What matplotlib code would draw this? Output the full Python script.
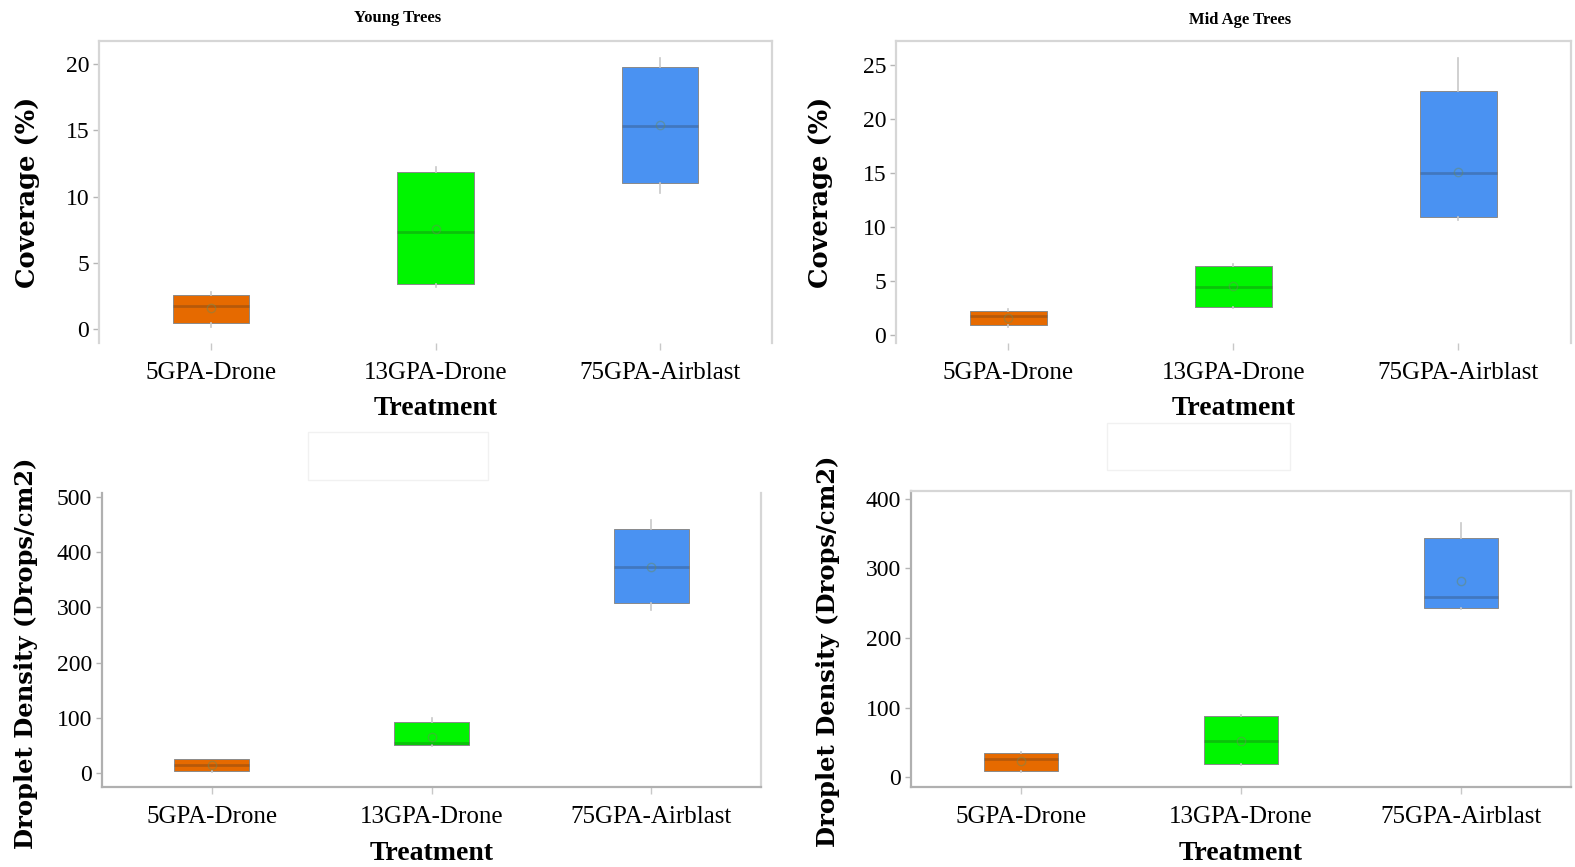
import matplotlib
matplotlib.use('Agg')
import matplotlib.pyplot as plt
from matplotlib.patches import Rectangle

# treatments and box colours
treatments = ['5GPA-Drone', '13GPA-Drone', '75GPA-Airblast']
colors = ['#E66A00', '#00F500', '#4A92F2']

# Young trees, coverage (%)
cov_young_q1 = [0.45, 3.4, 11.0]
cov_young_med = [1.7, 7.33, 15.3]
cov_young_q3 = [2.57, 11.86, 19.8]
cov_young_lo = [0.15, 3.17, 10.3]
cov_young_hi = [2.8, 12.2, 20.5]
cov_young_mean = [1.6, 7.55, 15.4]

# Mid age trees, coverage (%)
cov_mid_q1 = [0.92, 2.6, 10.9]
cov_mid_med = [1.75, 4.5, 15.0]
cov_mid_q3 = [2.3, 6.4, 22.6]
cov_mid_lo = [0.8, 2.5, 10.7]
cov_mid_hi = [2.4, 6.6, 25.6]
cov_mid_mean = [1.65, 4.55, 15.1]

# Young trees, droplet density
den_young_q1 = [4, 51, 308]
den_young_med = [14.5, 54, 373]
den_young_q3 = [25, 92, 442]
den_young_lo = [2, 49, 295]
den_young_hi = [26, 100, 458]
den_young_mean = [14, 65, 373]

# Mid age trees, droplet density
den_mid_q1 = [9, 19, 243]
den_mid_med = [26, 52, 259]
den_mid_q3 = [34.5, 88, 344]
den_mid_lo = [8, 18, 241]
den_mid_hi = [36, 89, 365]
den_mid_mean = [23, 52, 282]

W, H = 1575, 867
fig = plt.figure(figsize=(W / 100, H / 100), dpi=100)


def box_stats(q1, med, q3, lo, hi, mean):
    out = []
    for i in range(len(q1)):
        out.append(dict(q1=q1[i], med=med[i], q3=q3[i], whislo=lo[i],
                        whishi=hi[i], mean=mean[i], fliers=[]))
    return out


def panel(px, stats, ylim, yticks, ylabel, ylab_xy, xlab_y, spines, dark=False, ylab_size=18.5):
    l, r, t, b = px
    ax = fig.add_axes([l / W, 1 - b / H, (r - l) / W, (b - t) / H])
    bp = ax.bxp(stats, positions=[1, 2, 3], widths=0.34, patch_artist=True,
                showmeans=True, showcaps=False, showfliers=False,
                boxprops=dict(edgecolor='#8a8a8a', linewidth=0.7),
                whiskerprops=dict(color='#c8c8c8', linewidth=1.2),
                medianprops=dict(color='#2a2a2a', linewidth=2, alpha=0.25),
                meanprops=dict(marker='o', markersize=6, markerfacecolor='none',
                               markeredgecolor='#6a8a5a', alpha=0.45))
    for patch, c in zip(bp['boxes'], colors):
        patch.set_facecolor(c)
    ax.set_xlim(0.5, 3.5)
    ax.set_ylim(*ylim)
    ax.set_yticks(yticks)
    ax.set_xticks([1, 2, 3])
    ax.set_xticklabels(treatments, family='Liberation Serif', fontsize=18)
    ax.set_yticklabels([str(v) for v in yticks], family='Liberation Serif', fontsize=17)
    ax.tick_params(axis='y', length=4, width=1, color='#b5b5b5', pad=3)
    ax.tick_params(axis='x', length=5, width=1, color='#c8c8c8', pad=9)
    for s in ['top', 'bottom', 'left', 'right']:
        ax.spines[s].set_visible(s in spines)
        ax.spines[s].set_color('#d6d6d6')
        ax.spines[s].set_linewidth(1.6)
    if dark:
        ax.spines['left'].set_color('#b0b0b0')
        ax.spines['bottom'].set_color('#b0b0b0')
    ax.set_ylabel(ylabel, family='DejaVu Serif', fontweight='bold', fontsize=ylab_size)
    ax.yaxis.set_label_coords(*ylab_xy)
    ax.set_xlabel('Treatment', family='Liberation Serif', fontweight='bold', fontsize=20)
    ax.xaxis.set_label_coords(0.5, xlab_y)
    return ax


panel((99, 772, 41, 343),
      box_stats(cov_young_q1, cov_young_med, cov_young_q3, cov_young_lo, cov_young_hi, cov_young_mean),
      (-1.06, 21.75), [0, 5, 10, 15, 20], 'Coverage (%)', (-0.088, 0.5), -0.175,
      ['top', 'left', 'right'])
panel((896, 1571, 41, 343),
      box_stats(cov_mid_q1, cov_mid_med, cov_mid_q3, cov_mid_lo, cov_mid_hi, cov_mid_mean),
      (-0.7, 27.2), [0, 5, 10, 15, 20, 25], 'Coverage (%)', (-0.093, 0.5), -0.175,
      ['top', 'left', 'right'])
panel((102, 761, 493, 787),
      box_stats(den_young_q1, den_young_med, den_young_q3, den_young_lo, den_young_hi, den_young_mean),
      (-25, 507), [0, 100, 200, 300, 400, 500], 'Droplet Density (Drops/cm2)', (-0.097, 0.455), -0.183,
      ['bottom', 'left', 'right'], dark=True, ylab_size=17.5)
panel((911, 1571, 491, 787),
      box_stats(den_mid_q1, den_mid_med, den_mid_q3, den_mid_lo, den_mid_hi, den_mid_mean),
      (-14, 411), [0, 100, 200, 300, 400], 'Droplet Density (Drops/cm2)', (-0.108, 0.46), -0.182,
      ['top', 'bottom', 'left', 'right'], dark=True, ylab_size=17.5)

fig.text(398 / W, 1 - 18 / H, 'Young Trees', family='Liberation Serif', fontweight='bold',
         fontsize=12, ha='center', va='center')
fig.text(1240 / W, 1 - 20 / H, 'Mid Age Trees', family='Liberation Serif', fontweight='bold',
         fontsize=12, ha='center', va='center')

# faint empty title boxes of the lower panels
for (x0, y0, x1, y1) in [(308, 432, 488, 480), (1107, 423, 1290, 470)]:
    fig.patches.append(Rectangle((x0 / W, 1 - y1 / H), (x1 - x0) / W, (y1 - y0) / H,
                                 transform=fig.transFigure, fill=False,
                                 edgecolor='#f1f1f1', linewidth=1))

fig.savefig('out.png', dpi=100)
plt.close(fig)
